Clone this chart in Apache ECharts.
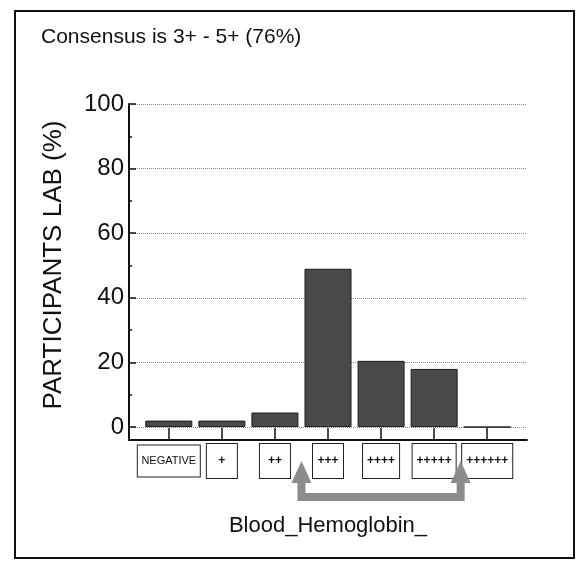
<!DOCTYPE html>
<html>
<head>
<meta charset="utf-8">
<script src="https://cdn.jsdelivr.net/npm/echarts@6/dist/echarts.min.js"></script>
<style>
  html, body { margin: 0; padding: 0; background: #fff; }
  #chart { width: 583px; height: 561px; }
</style>
</head>
<body>
<div id="chart"></div>
<script>
  // data
  var categories = ['NEGATIVE', '+', '++', '+++', '++++', '+++++', '++++++'];
  var percents = [2, 2, 4.5, 49, 20.5, 18, 0];
  var yTicks = [0, 20, 40, 60, 80, 100];
  var yMinorTicks = [10, 30, 50, 70, 90];
  var consensusFrom = 2.5;   // between ++ and +++
  var consensusTo = 5.5;     // between +++++ and ++++++

  var catIndex = categories.map(function (c, i) { return i; });
  var barData = percents.map(function (v, i) { return [i, v]; });

  var narrow = '"Liberation Sans Narrow", "Liberation Sans", Arial, sans-serif';
  var sans = '"Liberation Sans", Arial, sans-serif';

  var chartDom = document.getElementById('chart');
  var myChart = echarts.init(chartDom);

  var option = {
    animation: false,
    title: {
      text: 'Consensus is 3+ - 5+ (76%)',
      left: 36,
      top: 22,
      textStyle: { fontFamily: sans, fontSize: 21, fontWeight: 'normal', color: '#111' }
    },
    grid: [
      { left: 129, right: 56, top: 104, bottom: 121 },
      { left: 129, right: 56, top: 104, bottom: 121 }
    ],
    xAxis: [
      {
        type: 'value',
        gridIndex: 0,
        min: -0.75,
        max: 6.75,
        name: 'Blood_Hemoglobin_',
        nameLocation: 'middle',
        nameGap: 75,
        nameTextStyle: { fontFamily: narrow, fontSize: 22, color: '#111' },
        axisLine: { show: true, onZero: false, lineStyle: { color: '#111', width: 2 } },
        axisTick: {
          show: true, inside: true, length: 12, customValues: catIndex,
          lineStyle: { color: '#111', width: 1.5 }
        },
        axisLabel: {
          show: true,
          showMinLabel: true,
          showMaxLabel: true,
          hideOverlap: false,
          customValues: catIndex,
          margin: 14,
          formatter: function (v) {
            var c = categories[Math.round(v)];
            if (c === undefined) return '';
            if (c === 'NEGATIVE') return '{neg|' + c + '}';
            return c.length <= 3 ? '{short|' + c + '}' : '{long|' + c + '}';
          },
          rich: {
            neg: {
              fontFamily: narrow, fontSize: 11, color: '#111', width: 52, align: 'center',
              lineHeight: 14, padding: [10, 5], borderColor: '#222', borderWidth: 1, backgroundColor: '#fff'
            },
            short: {
              fontFamily: sans, fontSize: 12, fontWeight: 'bold', color: '#111', width: 20, align: 'center',
              lineHeight: 14, padding: [11, 5], borderColor: '#222', borderWidth: 1, backgroundColor: '#fff'
            },
            long: {
              fontFamily: sans, fontSize: 12, fontWeight: 'bold', color: '#111',
              lineHeight: 14, padding: [11, 4], borderColor: '#222', borderWidth: 1, backgroundColor: '#fff'
            }
          }
        },
        splitLine: { show: false }
      },
      {
        type: 'value',
        gridIndex: 1,
        min: -0.75,
        max: 6.75,
        show: false
      }
    ],
    yAxis: [
      {
        type: 'value',
        gridIndex: 0,
        min: -4,
        max: 100,
        name: 'PARTICIPANTS LAB (%)',
        nameLocation: 'middle',
        nameGap: 62,
        nameTextStyle: { fontFamily: sans, fontSize: 26, color: '#111', padding: [0, 0, 0, 14] },
        axisLine: { show: true, onZero: false, lineStyle: { color: '#111', width: 2 } },
        axisTick: {
          show: true, inside: true, length: 7, customValues: yTicks,
          lineStyle: { color: '#111', width: 1.5 }
        },
        axisLabel: {
          show: true, customValues: yTicks, margin: 5,
          fontFamily: narrow, fontSize: 24, color: '#111'
        },
        splitLine: {
          show: true,
          lineStyle: { color: '#888', type: 'dotted', width: 1 }
        }
      },
      {
        type: 'value',
        gridIndex: 1,
        min: -4,
        max: 100,
        axisLine: { show: false, onZero: false },
        axisTick: {
          show: true, inside: true, length: 3, customValues: yMinorTicks,
          lineStyle: { color: '#111', width: 1.5 }
        },
        axisLabel: { show: false },
        splitLine: { show: false }
      }
    ],
    series: [
      {
        type: 'bar',
        xAxisIndex: 0,
        yAxisIndex: 0,
        data: barData,
        barWidth: 47,
        itemStyle: { color: '#4a4a4a', borderColor: '#1a1a1a', borderWidth: 1 },
        z: 3
      }
    ]
  };

  option && myChart.setOption(option);

  // consensus arrow and the frame, placed from the axis scales
  var xa = myChart.convertToPixel({ xAxisIndex: 0 }, consensusFrom);
  var xb = myChart.convertToPixel({ xAxisIndex: 0 }, consensusTo);
  var yBase = myChart.convertToPixel({ yAxisIndex: 0 }, -4);
  var tipY = yBase + 21;
  var shaftY = yBase + 57;
  var arrowColor = '#8c8c8c';

  function head(x) {
    return {
      type: 'polygon',
      shape: { points: [[x - 10, tipY + 22], [x, tipY], [x + 10, tipY + 22]] },
      style: { fill: arrowColor },
      z: 10
    };
  }

  myChart.setOption({
    graphic: [
      {
        type: 'rect',
        shape: { x: 15, y: 11, width: 559, height: 547 },
        style: { fill: 'none', stroke: '#111', lineWidth: 2 },
        silent: true
      },
      {
        type: 'polyline',
        shape: { points: [[xa, tipY + 18], [xa, shaftY], [xb, shaftY], [xb, tipY + 18]] },
        style: { stroke: arrowColor, lineWidth: 8, fill: 'none', lineJoin: 'miter' },
        z: 10
      },
      head(xa),
      head(xb)
    ]
  });
</script>
</body>
</html>
